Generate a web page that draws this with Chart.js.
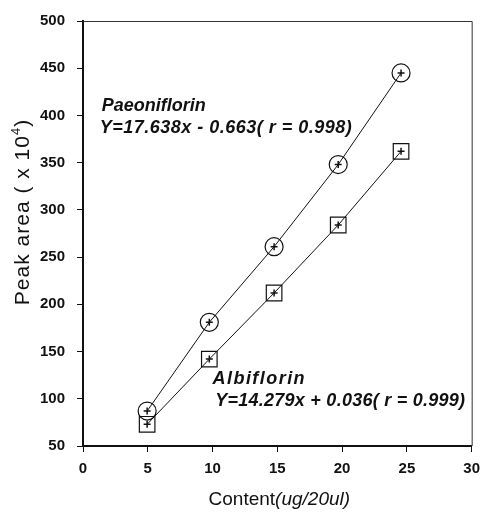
<!DOCTYPE html>
<html><head><meta charset="utf-8">
<script src="https://cdn.jsdelivr.net/npm/chart.js@4.4.0/dist/chart.umd.min.js"></script>
<style>html,body{margin:0;padding:0;background:#fff}#wrap{width:488px;height:514px}</style>
</head><body><div id="wrap"><canvas id="c" width="488" height="514"></canvas></div>
<script>
// ---- data ----
const contents = [4.95, 9.75, 14.75, 19.7, 24.55];
const paeoniflorin = [87, 181, 261, 348, 445];
const albiflorin = [73, 142, 212, 284, 362];
const xTicks = [0, 5, 10, 15, 20, 25, 30];
const yTicks = [50, 100, 150, 200, 250, 300, 350, 400, 450, 500];
const seriesNames = ['Paeoniflorin', 'Albiflorin'];
const equations = ['Y=17.638x - 0.663( r = 0.998)', 'Y=14.279x + 0.036( r = 0.999)'];
const xTitleParts = ['Content', '(ug/20ul)'];
const yTitleParts = ['Peak area ( x 10', '4', ')'];

const FONT = "'Liberation Sans', Arial, sans-serif";
const INK = '#111';

function pts(xs, ys) { return xs.map((x, i) => ({ x: x, y: ys[i] })); }

function fitText(ctx, text, x, y, target) {
  ctx.letterSpacing = '0px';
  const w = ctx.measureText(text).width;
  const n = Math.max(1, text.length - 1);
  const sp = Math.max(0, (target - w) / n);
  ctx.letterSpacing = sp.toFixed(2) + 'px';
  ctx.fillText(text, x, y);
  ctx.letterSpacing = '0px';
}

const textPlugin = {
  id: 'texts',
  afterDraw(chart) {
    const ctx = chart.ctx, ca = chart.chartArea;
    const xs = chart.scales.x, ys = chart.scales.y;
    ctx.save();
    // frame top and right
    ctx.strokeStyle = '#333';
    ctx.lineWidth = 1;
    ctx.beginPath();
    ctx.moveTo(ca.left, ca.top + 0.5);
    ctx.lineTo(ca.right + 0.5, ca.top + 0.5);
    ctx.lineTo(ca.right + 0.5, ca.bottom);
    ctx.stroke();

    // annotations
    ctx.fillStyle = INK;
    ctx.textBaseline = 'middle';
    ctx.textAlign = 'left';
    ctx.font = 'italic bold 18px ' + FONT;
    fitText(ctx, seriesNames[0], xs.getPixelForValue(1.45), ys.getPixelForValue(410), 104);
    fitText(ctx, equations[0], xs.getPixelForValue(1.3), ys.getPixelForValue(387), 252);
    fitText(ctx, seriesNames[1], xs.getPixelForValue(10.0), ys.getPixelForValue(121), 92);
    fitText(ctx, equations[1], xs.getPixelForValue(10.2), ys.getPixelForValue(98), 250);

    // x title
    ctx.font = '19px ' + FONT;
    const w1 = ctx.measureText(xTitleParts[0]).width;
    ctx.font = 'italic 19px ' + FONT;
    const w2 = ctx.measureText(xTitleParts[1]).width;
    let x0 = (ca.left + ca.right) / 2 - (w1 + w2) / 2 + 2;
    const ty = 500;
    ctx.font = '19px ' + FONT;
    ctx.fillText(xTitleParts[0], x0, ty);
    ctx.font = 'italic 19px ' + FONT;
    ctx.fillText(xTitleParts[1], x0 + w1, ty);

    // y title (rotated)
    ctx.translate(23, 212);
    ctx.rotate(-Math.PI / 2);
    const sp = 1;
    ctx.letterSpacing = sp + 'px';
    ctx.font = '21px ' + FONT;
    const a = ctx.measureText(yTitleParts[0]).width;
    ctx.font = '13px ' + FONT;
    const b = ctx.measureText(yTitleParts[1]).width;
    ctx.font = '21px ' + FONT;
    const c = ctx.measureText(yTitleParts[2]).width;
    let sx = -(a + b + c) / 2;
    ctx.fillText(yTitleParts[0], sx, 0);
    ctx.font = '13px ' + FONT;
    ctx.fillText(yTitleParts[1], sx + a, -7);
    ctx.font = '21px ' + FONT;
    ctx.fillText(yTitleParts[2], sx + a + b, 0);
    ctx.letterSpacing = '0px';
    ctx.restore();
  }
};

new Chart(document.getElementById('c'), {
  type: 'scatter',
  data: {
    datasets: [
      { label: seriesNames[0], data: pts(contents, paeoniflorin), showLine: true,
        borderColor: INK, borderWidth: 1, pointStyle: 'circle', pointRadius: 9,
        pointBorderWidth: 1.2, pointBorderColor: INK, pointBackgroundColor: 'rgba(0,0,0,0)' },
      { label: seriesNames[0] + ' +', data: pts(contents, paeoniflorin), showLine: false,
        pointStyle: 'cross', pointRadius: 3.5, pointBorderWidth: 1.5, pointBorderColor: INK },
      { label: seriesNames[1], data: pts(contents, albiflorin), showLine: true,
        borderColor: INK, borderWidth: 1, pointStyle: 'rect', pointRadius: 11,
        pointBorderWidth: 1.2, pointBorderColor: INK, pointBackgroundColor: 'rgba(0,0,0,0)' },
      { label: seriesNames[1] + ' +', data: pts(contents, albiflorin), showLine: false,
        pointStyle: 'cross', pointRadius: 3.5, pointBorderWidth: 1.5, pointBorderColor: INK }
    ]
  },
  options: {
    responsive: false,
    animation: false,
    devicePixelRatio: 1,
    layout: { padding: { top: 18, right: 9, left: 0, bottom: 0 } },
    plugins: { legend: { display: false }, tooltip: { enabled: false } },
    scales: {
      x: {
        type: 'linear', min: 0, max: 30,
        afterBuildTicks: s => { s.ticks = xTicks.map(v => ({ value: v })); },
        afterFit: s => { s.height = 68; },
        ticks: { color: INK, font: { family: FONT, size: 15, weight: 'bold' }, padding: 8, maxRotation: 0 },
        grid: { drawOnChartArea: false, drawTicks: true, tickLength: 6, color: INK, lineWidth: 1 },
        border: { color: INK, width: 2 }
      },
      y: {
        type: 'linear', min: 50, max: 500,
        afterBuildTicks: s => { s.ticks = yTicks.map(v => ({ value: v })); },
        afterFit: s => { s.width = 83; },
        ticks: { color: INK, font: { family: FONT, size: 15, weight: 'bold' }, padding: 12 },
        grid: { drawOnChartArea: false, drawTicks: true, tickLength: 6, color: INK, lineWidth: 1 },
        border: { color: INK, width: 2 }
      }
    }
  },
  plugins: [textPlugin]
});
</script>
</body></html>
